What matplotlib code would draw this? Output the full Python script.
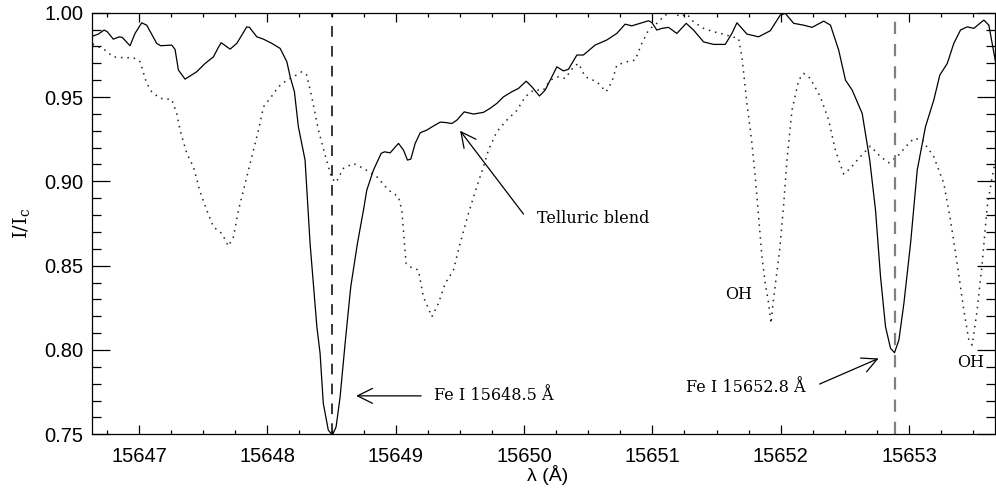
import matplotlib
matplotlib.use('Agg')
import matplotlib.pyplot as plt
from matplotlib.ticker import MultipleLocator, FormatStrFormatter

# spectrum 1 (solid): observed intensity
sol_wl = [15646.639, 15646.683, 15646.728, 15646.753, 15646.800, 15646.847, 15646.870, 15646.930,
          15646.969, 15647.021, 15647.060, 15647.138, 15647.169, 15647.255, 15647.281, 15647.307,
          15647.359, 15647.450, 15647.515, 15647.580, 15647.614, 15647.640, 15647.710, 15647.762,
          15647.840, 15647.861, 15647.918, 15647.970, 15648.035, 15648.100, 15648.152, 15648.178,
          15648.211, 15648.242, 15648.294, 15648.333, 15648.386, 15648.411, 15648.436, 15648.475,
          15648.507, 15648.536, 15648.567, 15648.606, 15648.650, 15648.702, 15648.749, 15648.775,
          15648.827, 15648.887, 15648.913, 15648.957, 15649.022, 15649.061, 15649.092, 15649.118,
          15649.152, 15649.191, 15649.243, 15649.294, 15649.347, 15649.386, 15649.438, 15649.477,
          15649.534, 15649.606, 15649.684, 15649.736, 15649.788, 15649.840, 15649.905, 15649.957,
          15650.017, 15650.061, 15650.120, 15650.165, 15650.204, 15650.256, 15650.307, 15650.346,
          15650.412, 15650.463, 15650.554, 15650.645, 15650.723, 15650.788, 15650.840, 15650.905,
          15650.970, 15650.996, 15651.035, 15651.074, 15651.126, 15651.191, 15651.264, 15651.321,
          15651.399, 15651.477, 15651.568, 15651.620, 15651.659, 15651.698, 15651.737, 15651.828,
          15651.919, 15651.997, 15652.036, 15652.101, 15652.179, 15652.245, 15652.335, 15652.388,
          15652.452, 15652.505, 15652.557, 15652.635, 15652.694, 15652.739, 15652.778, 15652.817,
          15652.856, 15652.887, 15652.921, 15652.960, 15653.012, 15653.064, 15653.128, 15653.193,
          15653.240, 15653.298, 15653.349, 15653.401, 15653.453, 15653.505, 15653.583, 15653.622,
          15653.674]
sol_int = [0.9861, 0.9873, 0.9897, 0.9887, 0.9843, 0.9857, 0.9853, 0.9804,
           0.9877, 0.9940, 0.9926, 0.9818, 0.9804, 0.9808, 0.9782, 0.9660,
           0.9606, 0.9650, 0.9699, 0.9738, 0.9788, 0.9822, 0.9784, 0.9818,
           0.9916, 0.9913, 0.9857, 0.9843, 0.9818, 0.9788, 0.9709, 0.9620,
           0.9531, 0.9323, 0.9126, 0.8632, 0.8137, 0.7980, 0.7683, 0.7525,
           0.7495, 0.7545, 0.7722, 0.8039, 0.8375, 0.8632, 0.8829, 0.8948,
           0.9067, 0.9166, 0.9175, 0.9169, 0.9225, 0.9185, 0.9126, 0.9132,
           0.9225, 0.9288, 0.9304, 0.9328, 0.9351, 0.9349, 0.9343, 0.9363,
           0.9412, 0.9399, 0.9409, 0.9433, 0.9462, 0.9501, 0.9531, 0.9551,
           0.9594, 0.9561, 0.9506, 0.9541, 0.9600, 0.9679, 0.9655, 0.9664,
           0.9749, 0.9749, 0.9808, 0.9838, 0.9877, 0.9932, 0.9922, 0.9937,
           0.9952, 0.9942, 0.9897, 0.9907, 0.9913, 0.9877, 0.9937, 0.9897,
           0.9827, 0.9812, 0.9812, 0.9877, 0.9940, 0.9907, 0.9873, 0.9857,
           0.9893, 0.9986, 0.9996, 0.9937, 0.9926, 0.9913, 0.9950, 0.9926,
           0.9778, 0.9600, 0.9541, 0.9403, 0.9126, 0.8829, 0.8434, 0.8137,
           0.8010, 0.7984, 0.8059, 0.8276, 0.8632, 0.9067, 0.9323, 0.9482,
           0.9630, 0.9699, 0.9818, 0.9897, 0.9916, 0.9907, 0.9956, 0.9926,
           0.9709]

# spectrum 2 (dotted)
dot_wl = [15646.639, 15646.735, 15646.800, 15646.878, 15646.956, 15647.008, 15647.060, 15647.099,
          15647.164, 15647.255, 15647.294, 15647.320, 15647.372, 15647.424, 15647.476, 15647.528,
          15647.580, 15647.645, 15647.697, 15647.736, 15647.775, 15647.827, 15647.879, 15647.931,
          15647.970, 15648.022, 15648.087, 15648.152, 15648.204, 15648.269, 15648.307, 15648.346,
          15648.398, 15648.450, 15648.502, 15648.536, 15648.593, 15648.671, 15648.749, 15648.853,
          15648.944, 15649.022, 15649.048, 15649.081, 15649.112, 15649.177, 15649.216, 15649.282,
          15649.333, 15649.386, 15649.450, 15649.502, 15649.567, 15649.632, 15649.684, 15649.723,
          15649.788, 15649.866, 15649.944, 15650.009, 15650.073, 15650.151, 15650.204, 15650.269,
          15650.321, 15650.386, 15650.425, 15650.477, 15650.568, 15650.640, 15650.685, 15650.723,
          15650.801, 15650.866, 15650.918, 15650.970, 15651.035, 15651.100, 15651.165, 15651.217,
          15651.269, 15651.321, 15651.399, 15651.477, 15651.555, 15651.620, 15651.672, 15651.698,
          15651.737, 15651.776, 15651.802, 15651.828, 15651.854, 15651.880, 15651.906, 15651.925,
          15651.940, 15651.966, 15651.992, 15652.023, 15652.049, 15652.088, 15652.140, 15652.179,
          15652.231, 15652.309, 15652.374, 15652.426, 15652.491, 15652.543, 15652.608, 15652.699,
          15652.778, 15652.843, 15652.908, 15652.973, 15653.038, 15653.103, 15653.193, 15653.271,
          15653.323, 15653.375, 15653.427, 15653.466, 15653.492, 15653.531, 15653.570, 15653.609,
          15653.648, 15653.674]
dot_int = [0.9814, 0.9778, 0.9738, 0.9733, 0.9733, 0.9709, 0.9581, 0.9531,
           0.9492, 0.9486, 0.9403, 0.9304, 0.9166, 0.9086, 0.8938, 0.8829,
           0.8730, 0.8691, 0.8616, 0.8671, 0.8829, 0.8988, 0.9145, 0.9304,
           0.9442, 0.9492, 0.9561, 0.9600, 0.9620, 0.9650, 0.9630, 0.9501,
           0.9304, 0.9156, 0.9017, 0.8994, 0.9077, 0.9106, 0.9077, 0.9027,
           0.8948, 0.8908, 0.8829, 0.8513, 0.8493, 0.8474, 0.8315, 0.8197,
           0.8276, 0.8395, 0.8474, 0.8632, 0.8810, 0.8968, 0.9086, 0.9185,
           0.9294, 0.9363, 0.9420, 0.9501, 0.9541, 0.9541, 0.9600, 0.9620,
           0.9610, 0.9679, 0.9699, 0.9620, 0.9590, 0.9531, 0.9590, 0.9689,
           0.9709, 0.9719, 0.9818, 0.9897, 0.9937, 0.9986, 1.0000, 0.9976,
           0.9992, 0.9946, 0.9907, 0.9887, 0.9873, 0.9857, 0.9848, 0.9738,
           0.9462, 0.9225, 0.9027, 0.8790, 0.8553, 0.8395, 0.8276, 0.8158,
           0.8276, 0.8434, 0.8592, 0.8860, 0.9126, 0.9422, 0.9600, 0.9640,
           0.9610, 0.9501, 0.9363, 0.9185, 0.9043, 0.9077, 0.9136, 0.9209,
           0.9146, 0.9110, 0.9146, 0.9205, 0.9255, 0.9245, 0.9146, 0.8988,
           0.8770, 0.8513, 0.8236, 0.8059, 0.8029, 0.8236, 0.8513, 0.8849,
           0.9027, 0.9126]

# line centres marked with dashed lines
fe_lines = [15648.5, 15652.89]

fig = plt.figure(figsize=(9.96, 4.88), dpi=100)
ax = fig.add_axes([0.0924, 0.110, 0.9066, 0.864])

ax.plot(sol_wl, sol_int, color='black', lw=0.9)
ax.plot(dot_wl, dot_int, color='#222222', lw=1.1, linestyle=(0, (1, 3.2)))

ax.axvline(fe_lines[0], color='black', lw=1.1, linestyle=(0, (7, 6)))
ax.axvline(fe_lines[1], color='#808080', lw=1.6, linestyle=(0, (5.5, 4.5)))

ax.set_xlim(15646.634, 15653.67)
ax.set_ylim(0.75, 1.00)

ax.xaxis.set_major_locator(MultipleLocator(1))
ax.xaxis.set_minor_locator(MultipleLocator(0.25))
ax.yaxis.set_major_locator(MultipleLocator(0.05))
ax.yaxis.set_minor_locator(MultipleLocator(0.01))
ax.xaxis.set_major_formatter(FormatStrFormatter('%d'))
ax.yaxis.set_major_formatter(FormatStrFormatter('%.2f'))

ax.tick_params(axis='both', which='both', direction='in', top=True, right=True,
               width=0.9, labelsize=14.5)
ax.tick_params(axis='x', which='major', length=6.5, pad=9)
ax.tick_params(axis='x', which='minor', length=3.2)
ax.tick_params(axis='y', which='major', length=13, pad=6)
ax.tick_params(axis='y', which='minor', length=6.5)
for lab in ax.get_xticklabels() + ax.get_yticklabels():
    lab.set_family('Liberation Sans')
for sp in ax.spines.values():
    sp.set_linewidth(0.9)

plt.rcParams['mathtext.default'] = 'regular'
plt.rcParams['mathtext.fontset'] = 'dejavuserif'
ax.set_xlabel('λ (Å)', fontsize=14, family='Liberation Sans')
ax.set_ylabel('I/I$_c$', fontsize=14, family='DejaVu Serif')
ax.xaxis.set_label_coords(0.505, -0.072)
ax.yaxis.set_label_coords(-0.066, 0.5)

serif = 'DejaVu Serif'
arrow = dict(arrowstyle='->,head_length=0.6,head_width=0.3', lw=0.9, color='black',
             mutation_scale=18, shrinkA=0, shrinkB=0)

ax.annotate('', xy=(15649.502, 0.9300), xytext=(15649.996, 0.8806), arrowprops=arrow)
ax.text(15650.10, 0.8782, 'Telluric blend', fontsize=11.5, family=serif, ha='left', va='center')

ax.annotate('', xy=(15648.692, 0.7728), xytext=(15649.198, 0.7728), arrowprops=arrow)
ax.text(15649.302, 0.7728, 'Fe I 15648.5 Å', fontsize=11.5, family=serif, ha='left', va='center')

ax.annotate('', xy=(15652.763, 0.7950), xytext=(15652.303, 0.7798), arrowprops=arrow)
ax.text(15651.261, 0.7776, 'Fe I 15652.8 Å', fontsize=11.5, family=serif, ha='left', va='center')

ax.text(15651.673, 0.8330, 'OH', fontsize=11.5, family=serif, ha='center', va='center')
ax.text(15653.477, 0.7926, 'OH', fontsize=11.5, family=serif, ha='center', va='center')

fig.savefig('out.png', dpi=100)
